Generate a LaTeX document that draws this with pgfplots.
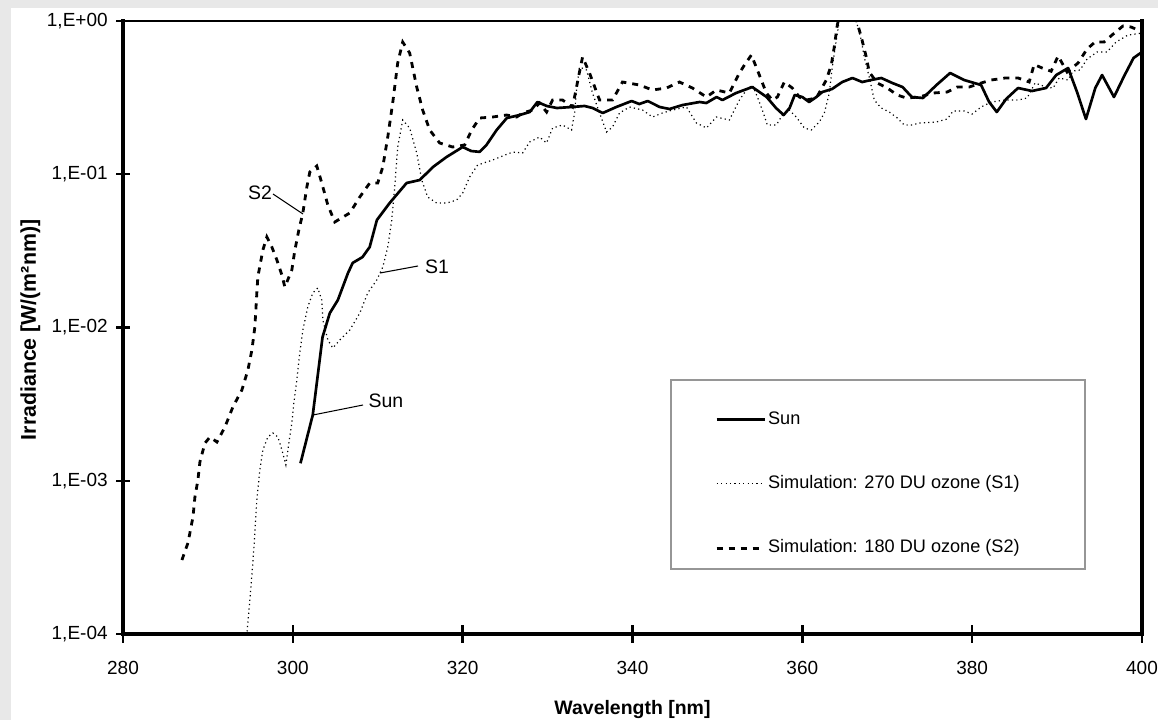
\documentclass[border=0pt]{standalone}
\usepackage{pgfplots}
\pgfplotsset{compat=1.18}
\usepackage{fontspec}
\setmainfont{Liberation Sans}
\definecolor{bg}{RGB}{232,232,232}
\definecolor{legbox}{RGB}{150,150,150}
\begin{document}
\begin{tikzpicture}
\begin{scope}[x=0.75pt,y=-0.75pt]
\fill[bg] (0,0) rectangle (1158,720);
\fill[white] (11,8) rectangle (1158,720);
\end{scope}
\begin{axis}[
  at={(92.25pt,-475.5pt)}, anchor=south west,
  scale only axis, width=764.25pt, height=459.75pt,
  xmin=280, xmax=400, ymin=1e-4, ymax=1,
  ymode=log, log basis y=10,
  xtick={280,300,320,340,360,380,400},
  xticklabels={280,300,320,340,360,380,400},
  ytick={1e-4,1e-3,1e-2,1e-1,1},
  yticklabels={{1,E-04},{1,E-03},{1,E-02},{1,E-01},{1,E+00}},
  yminorticks=false, xminorticks=false,
  tick align=center, major tick length=11pt,
  xtick pos=left, ytick pos=left,
  ticklabel style={font=\fontsize{14.25}{16}\selectfont, inner sep=0pt},
  xticklabel style={yshift=-14.5pt},
  yticklabel style={xshift=-5.8pt},
  xlabel={Wavelength [nm]},
  ylabel={Irradiance [W/(m²nm)]},
  every axis x label/.style={at={(axis description cs:0.5,-0.1305)}, anchor=base, font=\bfseries\fontsize{14.6}{16}\selectfont},
  every axis y label/.style={at={(axis description cs:-0.091,0.496)}, rotate=90, anchor=center, font=\bfseries\fontsize{16}{18}\selectfont},
  legend style={draw=none, fill=none, at={(axis description cs:0.581,0.3657)}, anchor=north west, inner sep=0pt, row sep=34.3pt, font=\fontsize{13.6}{16}\selectfont, nodes={inner sep=0pt, text height=10.5pt, text depth=3.5pt}, /tikz/every odd column/.style={column sep=1.5pt}},
  legend cell align=left,
  legend image code/.code={\draw[#1] (0pt,0pt) -- (36pt,0pt);},
]
% Sun
\addplot[black, line width=2pt, line join=round] coordinates {
(300.9,1.3e-3) (302.35,2.69e-3) (303.5,8.67e-3) (304.35,1.24e-2) (305.3,1.51e-2)
(306.5,2.27e-2) (307.05,2.64e-2) (308.2,2.88e-2) (309.05,3.35e-2) (309.9,5.03e-2)
(311.4,6.49e-2) (313.4,8.77e-2) (314.95,9.17e-2) (316.5,0.1115) (318.1,0.1296)
(320.0,0.1506) (321.0,0.1418) (322.0,0.140) (322.8,0.1552) (324.0,0.1944)
(325.2,0.2328) (326.7,0.2435) (327.9,0.2548) (328.8,0.2961) (329.9,0.2789)
(331.1,0.2706) (332.9,0.2748) (334.35,0.2789) (335.3,0.2706) (336.5,0.2510)
(338.1,0.2748) (339.9,0.3006) (340.8,0.2873) (341.8,0.3006) (343.2,0.2748)
(344.35,0.2666) (345.9,0.2830) (347.9,0.2961) (348.7,0.2917) (349.9,0.3191)
(350.6,0.3051) (352.2,0.3390) (354.1,0.3709) (355.8,0.3191) (356.9,0.2706)
(357.8,0.2435) (358.5,0.2706) (359.1,0.3290) (360.0,0.3191) (360.8,0.2961)
(361.65,0.3191) (362.35,0.3440) (363.5,0.3600) (364.7,0.3999) (365.9,0.4247)
(367.05,0.3999) (368.1,0.4121) (369.3,0.4247) (370.6,0.3940) (371.8,0.3709)
(372.9,0.3191) (374.2,0.3145) (375.8,0.3823) (377.4,0.4577) (379.05,0.4121)
(381.05,0.3823) (382.0,0.2961) (382.9,0.2548) (384.0,0.3097) (385.4,0.3654)
(387.05,0.3494) (388.7,0.3654) (389.9,0.4441) (391.3,0.4935) (392.35,0.3440)
(393.4,0.2293) (394.5,0.3654) (395.3,0.4441) (396.7,0.3191) (397.9,0.4376)
(399.0,0.5735) (400,0.6276)
};
\addlegendentry{Sun}
% S1
\addplot[black, line width=0.9pt, dash pattern=on 0.9pt off 2.4pt] coordinates {
(294.3,8e-5) (294.59,1.0e-4) (294.94,1.67e-4) (295.29,2.91e-4) (295.53,4.56e-4)
(295.76,7.49e-4) (296.12,1.18e-3) (296.47,1.59e-3) (297.06,1.93e-3) (297.65,2.05e-3)
(298.24,1.93e-3) (298.71,1.59e-3) (299.18,1.27e-3) (299.53,1.76e-3) (299.88,2.38e-3)
(300.12,3.22e-3) (300.47,4.54e-3) (300.82,6.82e-3) (301.18,9.63e-3) (301.76,1.36e-2)
(302.35,1.68e-2) (302.94,1.81e-2) (303.41,1.51e-2) (303.53,1.12e-2) (304.12,8.29e-3)
(304.71,7.35e-3) (305.53,8.29e-3) (306.71,9.63e-3) (307.88,1.24e-2) (308.82,1.68e-2)
(309.88,2.04e-2) (310.59,2.48e-2) (311.18,3.35e-2) (311.65,5.03e-2) (312.0,8.26e-2)
(312.35,0.1506) (312.94,0.2259) (313.76,0.2003) (314.59,0.1376) (315.18,9.17e-2)
(315.88,7.10e-2) (316.94,6.49e-2) (318.12,6.49e-2) (319.29,6.79e-2) (320.0,7.54e-2)
(320.82,9.59e-2) (321.76,0.1149) (323.53,0.1239) (325.88,0.1397) (327.06,0.1376)
(327.88,0.1623) (329.06,0.1750) (329.88,0.1600) (330.59,0.2003) (331.76,0.2096)
(332.82,0.1944) (333.18,0.2510) (333.41,0.3546) (333.76,0.501) (334.59,0.479)
(335.29,0.3390) (336.12,0.2510) (336.94,0.1887) (337.65,0.2034) (338.47,0.2510)
(339.65,0.2748) (341.18,0.2625) (342.35,0.2363) (343.53,0.2510) (344.71,0.2625)
(346.35,0.2748) (347.53,0.2160) (348.71,0.2003) (349.88,0.2363) (351.41,0.2259)
(352.59,0.3051) (353.41,0.3546) (354.12,0.3823) (354.71,0.3191) (355.29,0.2625)
(355.88,0.2096) (356.94,0.2096) (357.65,0.2435) (358.47,0.2625) (359.29,0.2363)
(360.24,0.2003) (361.06,0.1944) (362.0,0.2193) (362.59,0.2510) (363.18,0.3390)
(363.53,0.501) (364.0,0.752) (364.35,1.0) (365.3,1.45) (366.35,1.0)
(366.94,0.752) (367.29,0.582) (367.88,0.431) (368.47,0.3051) (369.29,0.2706)
(370.24,0.2548) (371.18,0.2328) (372.0,0.2096) (372.94,0.2096) (373.76,0.2160)
(375.76,0.2193) (377.06,0.2293) (377.76,0.2587) (379.06,0.2587) (380.0,0.2472)
(381.06,0.2748) (382.24,0.2961) (383.88,0.3051) (385.41,0.3051) (386.47,0.3145)
(387.41,0.3940) (388.71,0.3709) (389.53,0.3654) (390.24,0.4247) (391.29,0.4121)
(391.88,0.4718) (392.71,0.479) (393.53,0.565) (394.71,0.628) (395.88,0.628)
(396.94,0.729) (398.35,0.810) (399.29,0.823) (400,0.835)
};
\addlegendentry{Simulation: 270 DU ozone (S1)}
% S2
\addplot[black, line width=2.1pt, dash pattern=on 4.5pt off 4.5pt] coordinates {
(286.94,3.04e-4) (287.65,3.93e-4) (288.24,5.80e-4) (288.47,7.83e-4) (288.82,1.01e-3)
(289.06,1.33e-3) (289.65,1.76e-3) (290.24,1.93e-3) (291.06,1.79e-3) (292.0,2.24e-3)
(292.94,3.03e-3) (294.0,3.91e-3) (294.71,5.28e-3) (295.18,7.13e-3) (295.53,1.01e-2)
(295.76,1.68e-2) (295.88,2.14e-2) (296.47,3.20e-2) (296.94,3.90e-2) (297.53,3.35e-2)
(298.12,2.76e-2) (298.71,2.20e-2) (299.06,1.84e-2) (299.88,2.37e-2) (300.24,3.20e-2)
(300.71,4.33e-2) (301.18,5.59e-2) (301.65,8.26e-2) (302.0,0.1034) (302.82,0.1132)
(303.41,8.77e-2) (304.12,6.30e-2) (304.94,4.88e-2) (306.71,5.59e-2) (307.88,7.10e-2)
(309.06,8.77e-2) (310.0,8.77e-2) (310.59,0.1115) (311.18,0.175) (311.76,0.2917)
(312.35,0.532) (312.94,0.729) (313.76,0.618) (314.59,0.371) (315.29,0.2625)
(316.12,0.1944) (317.29,0.160) (318.82,0.1506) (320.24,0.1552) (321.06,0.1944)
(322.0,0.2328) (323.53,0.2363) (325.18,0.2435) (326.35,0.2363) (327.06,0.2510)
(328.24,0.2625) (329.06,0.2917) (329.88,0.2548) (330.59,0.3051) (331.76,0.3051)
(332.94,0.2748) (333.76,0.4647) (334.12,0.582) (334.94,0.4577) (336.12,0.3051)
(337.65,0.3051) (338.82,0.3999) (340.82,0.3823) (342.35,0.3546) (344.0,0.3654)
(345.53,0.3999) (347.06,0.3654) (348.71,0.3191) (349.88,0.3546) (351.41,0.3390)
(352.59,0.4577) (353.18,0.516) (354.0,0.600) (354.94,0.4441) (355.76,0.3390)
(356.47,0.3051) (357.06,0.3191) (357.88,0.3999) (358.82,0.3654) (359.65,0.3191)
(360.47,0.3051) (361.65,0.3145) (362.82,0.4121) (363.41,0.516) (363.76,0.677)
(364.12,0.942) (364.7,1.3) (365.9,1.3) (366.47,0.97) (366.94,0.786)
(367.53,0.582) (367.88,0.4647) (368.82,0.394) (370.0,0.3654) (371.18,0.329)
(372.24,0.3145) (373.76,0.3191) (375.41,0.339) (377.06,0.344) (378.24,0.3709)
(379.65,0.3709) (381.06,0.394) (382.24,0.4121) (383.88,0.4247) (385.41,0.4247)
(386.71,0.40) (387.3,0.52) (388.24,0.4935) (389.3,0.47) (390.12,0.591)
(391.18,0.4647) (392.47,0.532) (393.53,0.657) (394.47,0.729) (395.53,0.729)
(396.47,0.810) (397.76,0.928) (398.71,0.914) (399.53,0.873) (400,0.886)
};
\addlegendentry{Simulation: 180 DU ozone (S2)}
\end{axis}
\begin{scope}[x=0.75pt,y=-0.75pt]
% heavier frame and ticks over the axis box
\draw[line width=1.8pt] (123,21) -- (1142,21);
\draw[line width=2.8pt, line cap=rect] (123,21) -- (123,634) -- (1142,634) -- (1142,21);
\foreach \yy in {21,174.25,327.5,480.75,634} \draw[line width=1.8pt] (116,\yy) -- (130,\yy);
\foreach \xx in {123,292.83,462.67,632.5,802.33,972.17,1142} \draw[line width=1.8pt] (\xx,625) -- (\xx,643);
\draw[legbox, line width=0.8pt] (671,380) rectangle (1085,569);
\draw[line width=0.8pt] (273,194) -- (303,214);
\node[font=\fontsize{14.6}{17}\selectfont, inner sep=0pt, anchor=center] at (260,193) {S2};
\draw[line width=0.8pt] (380,273) -- (418,266);
\node[font=\fontsize{14.6}{17}\selectfont, inner sep=0pt, anchor=center] at (437,267) {S1};
\draw[line width=0.8pt] (313,415) -- (363,405);
\node[font=\fontsize{14.6}{17}\selectfont, inner sep=0pt, anchor=center] at (386,401) {Sun};
\pgfresetboundingbox
\path[use as bounding box] (0,0) rectangle (1158,720);
\end{scope}
\end{tikzpicture}
\end{document}
